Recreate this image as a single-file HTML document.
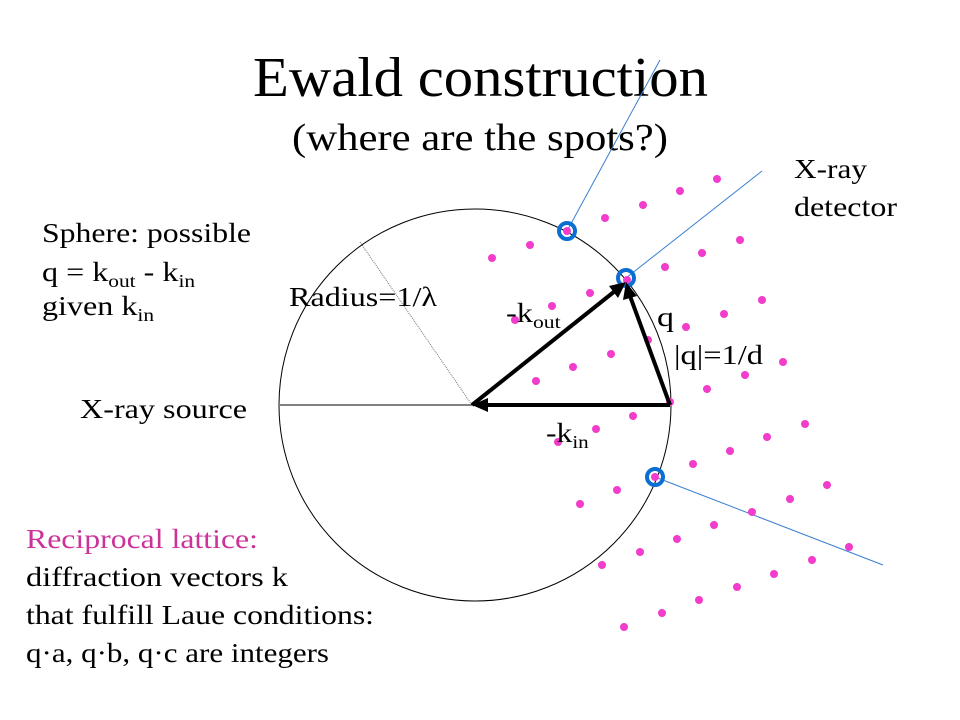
<!DOCTYPE html>
<html><head><meta charset="utf-8"><style>
html,body{margin:0;padding:0;background:#fff}
svg{display:block}
text{font-family:"Liberation Serif",serif;fill:#000}
</style></head><body>
<svg width="960" height="720" viewBox="0 0 960 720" xmlns="http://www.w3.org/2000/svg">
<text x="253" y="96" font-size="56" textLength="455" lengthAdjust="spacingAndGlyphs">Ewald construction</text>
<text x="292" y="150" font-size="38" textLength="376" lengthAdjust="spacingAndGlyphs">(where are the spots?)</text>

<circle cx="475" cy="405" r="196" fill="none" stroke="#000" stroke-width="1"/>
<line x1="280" y1="405" x2="472" y2="405" stroke="#000" stroke-width="1"/>
<line x1="360" y1="242" x2="472" y2="405" stroke="#777" stroke-width="1" stroke-dasharray="1,1"/>

<g stroke="#3a7fd0" stroke-width="1">
<line x1="567" y1="231" x2="660" y2="60"/>
<line x1="626" y1="278" x2="762" y2="171"/>
<line x1="655" y1="477" x2="883" y2="565"/>
</g>

<g fill="#f23ccc">
<circle cx="717" cy="179" r="4"/><circle cx="680" cy="191" r="4"/><circle cx="643" cy="205" r="4"/><circle cx="605" cy="218" r="4"/><circle cx="567" cy="231" r="4"/>
<circle cx="530" cy="245" r="4"/><circle cx="492" cy="258" r="4"/>
<circle cx="740" cy="240" r="4"/><circle cx="702" cy="253" r="4"/><circle cx="665" cy="267" r="4"/><circle cx="627" cy="280" r="4"/>
<circle cx="590" cy="293" r="4"/><circle cx="552" cy="306" r="4"/><circle cx="515" cy="320" r="4"/>
<circle cx="762" cy="300" r="4"/><circle cx="724" cy="314" r="4"/><circle cx="686" cy="327" r="4"/><circle cx="648" cy="340" r="4"/>
<circle cx="611" cy="354" r="4"/><circle cx="573" cy="367" r="4"/><circle cx="536" cy="381" r="4"/>
<circle cx="783" cy="362" r="4"/><circle cx="745" cy="375" r="4"/><circle cx="707" cy="389" r="4"/><circle cx="670" cy="402" r="4"/>
<circle cx="633" cy="416" r="4"/><circle cx="596" cy="429" r="4"/><circle cx="558" cy="442" r="4"/>
<circle cx="805" cy="424" r="4"/><circle cx="767" cy="437" r="4"/><circle cx="730" cy="451" r="4"/><circle cx="693" cy="464" r="4"/>
<circle cx="655" cy="477" r="4"/><circle cx="617" cy="490" r="4"/><circle cx="580" cy="504" r="4"/>
<circle cx="827" cy="485" r="4"/><circle cx="790" cy="499" r="4"/><circle cx="752" cy="512" r="4"/><circle cx="714" cy="525" r="4"/>
<circle cx="677" cy="539" r="4"/><circle cx="640" cy="552" r="4"/><circle cx="602" cy="565" r="4"/>
<circle cx="849" cy="547" r="4"/><circle cx="812" cy="560" r="4"/><circle cx="774" cy="574" r="4"/><circle cx="737" cy="587" r="4"/>
<circle cx="699" cy="600" r="4"/><circle cx="662" cy="613" r="4"/><circle cx="624" cy="627" r="4"/>
</g>

<g fill="none" stroke="#0a6fd0" stroke-width="4">
<circle cx="567" cy="231" r="8"/>
<circle cx="626" cy="278" r="8"/>
<circle cx="655" cy="477" r="8"/>
</g>

<g stroke="#000" stroke-width="4" fill="none">
<line x1="670" y1="405" x2="485" y2="405"/>
<line x1="472" y1="405" x2="615" y2="291"/>
<line x1="670" y1="405" x2="630" y2="296"/>
</g>
<g fill="#000">
<polygon points="472,405 488,398 488,412"/>
<polygon points="626,282 609,286 618,298"/>
<polygon points="626,282 623,300 637,296"/>
</g>

<g font-size="27">
<text x="42" y="242" textLength="209" lengthAdjust="spacingAndGlyphs">Sphere: possible</text>
<g transform="translate(42,0) scale(1.19,1)"><text x="0" y="281">q = k<tspan font-size="18" dy="6">out</tspan><tspan dy="-6"> - k</tspan><tspan font-size="18" dy="6">in</tspan></text>
<text x="0" y="315">given k<tspan font-size="18" dy="6">in</tspan></text></g>
<text x="289" y="306" textLength="148" lengthAdjust="spacingAndGlyphs">Radius=1/λ</text>
<text x="80" y="418" textLength="167" lengthAdjust="spacingAndGlyphs">X-ray source</text>
<g transform="translate(506,0) scale(1.2,1)"><text x="0" y="322">-k<tspan font-size="18" dy="6">out</tspan></text></g>
<text x="657" y="326" textLength="17" lengthAdjust="spacingAndGlyphs">q</text>
<text x="674" y="364" textLength="89" lengthAdjust="spacingAndGlyphs">|q|=1/d</text>
<g transform="translate(546,0) scale(1.17,1)"><text x="0" y="442">-k<tspan font-size="18" dy="6">in</tspan></text></g>
<text x="794" y="178" textLength="73" lengthAdjust="spacingAndGlyphs">X-ray</text>
<text x="794" y="216" textLength="103" lengthAdjust="spacingAndGlyphs">detector</text>
<text x="26" y="548" style="fill:#cc3399" textLength="232" lengthAdjust="spacingAndGlyphs">Reciprocal lattice:</text>
<text x="26" y="586" textLength="262" lengthAdjust="spacingAndGlyphs">diffraction vectors k</text>
<text x="26" y="624" textLength="348" lengthAdjust="spacingAndGlyphs">that fulfill Laue conditions:</text>
<text x="26" y="662" textLength="303" lengthAdjust="spacingAndGlyphs">q·a, q·b, q·c are integers</text>
</g>
</svg>
</body></html>
